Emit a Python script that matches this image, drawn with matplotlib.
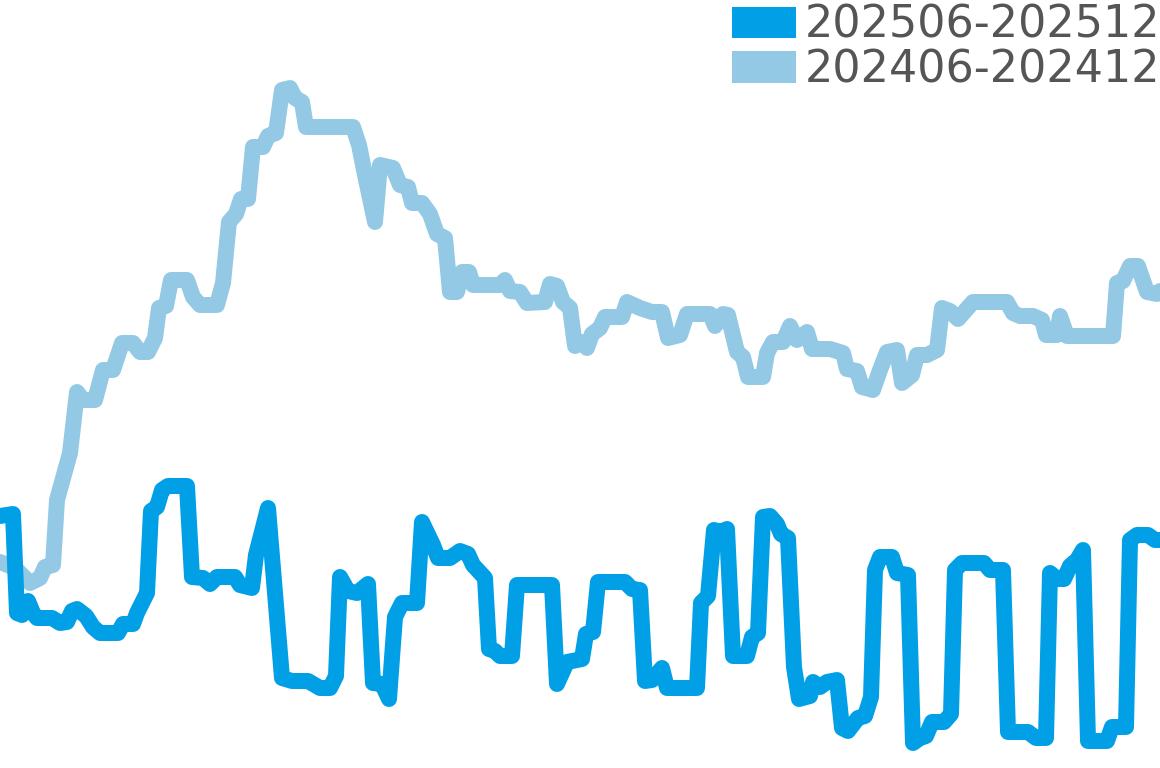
import matplotlib
matplotlib.use("Agg")
import matplotlib.pyplot as plt
from matplotlib.patches import Patch

# day offset from start of period, and index value
days_2025 = [
    0, 2.6, 3.4, 4.4, 5.6, 6.6, 7.4, 10.4, 12, 13.4,
    14.4, 15.4, 17.2, 18.6, 20, 23.6, 24.6, 26.6, 27.4, 29.4,
    30.2, 31.4, 32.4, 33.6, 37.4, 38.4, 40.6, 42, 43.4, 47,
    48, 50.4, 51.2, 53.6, 56.4, 58.4, 61.6, 64, 66, 67.2,
    68, 69.6, 71.4, 73.6, 74.6, 76.4, 77.8, 79, 80.4, 83.4,
    84.4, 86.6, 87.6, 90, 92, 93.6, 94.6, 97, 97.8, 99,
    100, 102.4, 103.4, 110.4, 111.4, 113.4, 116.4, 117.2, 118.6, 119.6,
    125, 126.4, 128, 129, 130.4, 132.4, 133.4, 139.4, 140.2, 141.6,
    142.8, 144.2, 145.4, 146.6, 149.4, 150.4, 151.6, 152.6, 154, 155.4,
    156.2, 157.6, 158.8, 159.8, 162, 162.6, 164, 165.4, 167.4, 168.4,
    169.6, 171.6, 173, 174.2, 175, 176, 178.4, 179.4, 181.6, 182.6,
    184, 185.2, 186.4, 188.8, 190.2, 191, 192.4, 196.8, 198, 200.6,
    201.6, 205.6, 207.2, 209.2, 210, 211.4, 212.8, 214, 215.4, 216.6,
    217.6, 221.4, 222.4, 225.2, 226, 227.4, 229.6, 231, 232,
]
vals_2025 = [
    25.2, 25.4, 15.5, 15.3, 16.7, 15.5, 15.0, 15.0, 14.5, 14.6,
    15.7, 15.9, 15.2, 14.1, 13.5, 13.5, 14.4, 14.4, 15.5, 17.5,
    25.7, 26.1, 27.8, 28.2, 28.2, 19.1, 19.0, 18.4, 19.1, 19.1,
    18.3, 18.0, 21.3, 26.0, 9.0, 8.7, 8.7, 8.0, 8.0, 9.2,
    19.1, 17.7, 17.5, 18.4, 8.5, 8.4, 6.9, 15.1, 16.5, 16.5,
    24.6, 22.3, 21.0, 21.0, 21.7, 21.4, 20.3, 19.0, 11.9, 11.7,
    11.2, 11.2, 18.3, 18.3, 8.4, 10.6, 10.9, 13.4, 13.6, 18.6,
    18.6, 17.9, 17.8, 8.7, 8.8, 10.0, 8.0, 8.0, 16.5, 17.2,
    23.8, 23.6, 23.9, 11.2, 11.2, 13.1, 13.5, 25.1, 25.2, 24.4,
    23.4, 23.0, 10.1, 6.9, 7.2, 8.6, 8.1, 8.6, 8.8, 4.0,
    3.7, 5.0, 5.2, 7.1, 19.8, 21.1, 21.1, 19.5, 19.3, 2.5,
    3.0, 3.2, 4.6, 4.6, 5.4, 19.8, 20.5, 20.5, 19.8, 19.8,
    3.6, 3.6, 3.0, 3.0, 19.5, 18.9, 18.9, 20.2, 20.8, 21.8,
    2.7, 2.7, 4.1, 4.1, 22.8, 23.3, 23.3, 22.8, 22.8,
]

days_2024 = [
    0, 3, 6, 8, 9, 10.6, 11.4, 14, 15.4, 16.6,
    19, 20.6, 22.6, 24.4, 26.6, 28, 29.6, 31, 31.8, 33.2,
    34.2, 37.4, 38.6, 40, 43.4, 44.6, 45.8, 47.2, 48.2, 49.6,
    50.6, 52.6, 53.6, 55.2, 56.4, 58, 59, 60.4, 61.2, 70.6,
    71.8, 73, 75, 76, 78.6, 80, 81.6, 82.4, 84.4, 86,
    87.4, 89, 90, 91.4, 92.4, 93.8, 94.6, 100, 101, 102,
    104, 105.4, 109, 110, 111.4, 112.6, 114, 115, 116.6, 117.4,
    118.4, 120, 121, 124.4, 125.4, 128, 130.4, 132.4, 133.6, 136,
    137.4, 142, 143, 144.6, 145.6, 147.4, 148.6, 149.6, 152.6, 153.4,
    154.6, 156.6, 158, 159.4, 161.4, 162.4, 166, 168.6, 169.4, 171.4,
    172.4, 174.6, 176, 177.4, 179.4, 180.4, 182.4, 183.4, 185.4, 187.4,
    188.4, 190, 191.6, 194.6, 201.4, 202.6, 204, 206.6, 208.4, 209.2,
    211.4, 212, 213.4, 222.6, 223.4, 224.6, 226, 227.6, 229.4, 231.4,
    232,
]
vals_2024 = [
    20.6, 20.0, 18.5, 19.0, 20.1, 20.3, 26.8, 31.5, 37.6, 36.8,
    36.8, 39.8, 39.8, 42.5, 42.5, 41.6, 41.6, 43.0, 46.0, 46.2,
    48.8, 48.8, 47.1, 46.3, 46.3, 48.5, 54.6, 55.4, 56.9, 56.9,
    62.1, 62.1, 63.2, 63.5, 67.8, 68.0, 67.0, 66.6, 64.1, 64.1,
    62.3, 59.3, 54.6, 60.3, 60.0, 58.3, 58.1, 56.5, 56.5, 55.4,
    53.4, 53.0, 47.6, 47.6, 49.6, 49.6, 48.3, 48.3, 48.8, 47.7,
    47.6, 46.5, 46.6, 48.4, 48.2, 46.6, 46.0, 42.2, 42.6, 42.0,
    43.4, 44.0, 45.1, 45.1, 46.6, 46.0, 45.6, 45.6, 43.0, 43.3,
    45.4, 45.4, 44.2, 45.4, 45.3, 41.6, 41.1, 39.1, 39.1, 41.5,
    42.6, 42.6, 44.2, 42.8, 43.6, 41.9, 41.9, 41.5, 39.9, 39.7,
    38.1, 37.8, 39.8, 41.6, 41.8, 38.5, 39.3, 41.3, 41.3, 41.8,
    46.0, 45.7, 44.9, 46.6, 46.6, 45.5, 45.2, 45.2, 44.8, 43.3,
    43.3, 45.2, 43.2, 43.2, 48.5, 48.7, 50.2, 50.2, 47.6, 47.4,
    47.7,
]

labels = ["202506-202512", "202406-202412"]
colors = ["#009fe6", "#93c9e4"]

fig = plt.figure(figsize=(11.6, 7.68), dpi=100)
ax = fig.add_axes([0, 0, 1, 1])

ax.plot(days_2024, vals_2024, color=colors[1], lw=11.5,
        solid_joinstyle="round", solid_capstyle="round")
ax.plot(days_2025, vals_2025, color=colors[0], lw=11.5,
        solid_joinstyle="round", solid_capstyle="round")

ax.set_xlim(0, 232)
ax.set_ylim(0, 76.8)
ax.axis("off")

handles = [Patch(facecolor=c, edgecolor="none") for c in colors]
ax.legend(handles, labels, loc="upper right",
          bbox_to_anchor=(1.0, 1 - 4 / 768),
          frameon=False, fontsize=32, labelcolor="#555555",
          handlelength=1.45, handleheight=0.72, handletextpad=0.18,
          labelspacing=0.03, borderpad=0.0, borderaxespad=0.0)

fig.savefig("out.png", dpi=100)
